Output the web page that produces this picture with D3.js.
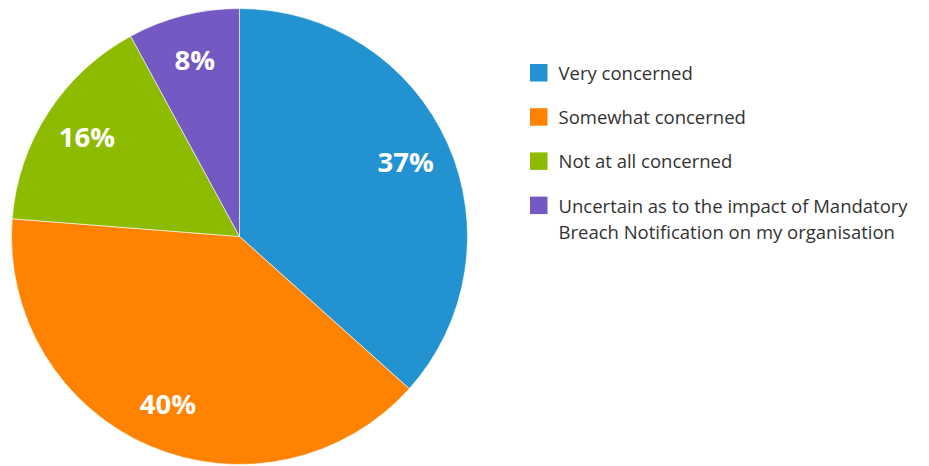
<!DOCTYPE html>
<html>
<head>
<meta charset="utf-8">
<script src="https://cdn.jsdelivr.net/npm/d3@7"></script>
<style>
  html, body { margin: 0; padding: 0; background: #fff; }
  svg { display: block; font-family: "Open Sans", sans-serif; }
</style>
</head>
<body>
<svg id="chart" width="929" height="466"></svg>
<script>
// Survey responses on Mandatory Breach Notification concern
const categories = [
  "Very concerned",
  "Somewhat concerned",
  "Not at all concerned",
  "Uncertain as to the impact of Mandatory Breach Notification on my organisation"
];
const values = [37, 40, 16, 8];
const colors = ["#2392d1", "#ff8300", "#8dbb00", "#7559c2"];
// legend lines (long label wraps onto two lines)
const legendLines = [
  ["Very concerned"],
  ["Somewhat concerned"],
  ["Not at all concerned"],
  ["Uncertain as to the impact of Mandatory", "Breach Notification on my organisation"]
];

const svg = d3.select("#chart");
const cx = 239.5, cy = 236.5, radius = 228;

const pie = d3.pie().sort(null).value(d => d)(values);
const arc = d3.arc().innerRadius(0).outerRadius(radius);
const labelArc = d3.arc().innerRadius(182).outerRadius(182);

const g = svg.append("g").attr("transform", `translate(${cx},${cy})`);

g.selectAll("path.slice")
  .data(pie)
  .join("path")
  .attr("class", "slice")
  .attr("d", arc)
  .attr("fill", (d, i) => colors[i])
  .attr("stroke", "#ffffff")
  .attr("stroke-opacity", 0.6)
  .attr("stroke-width", 1);

g.selectAll("text.pct")
  .data(pie)
  .join("text")
  .attr("class", "pct")
  .attr("transform", d => `translate(${labelArc.centroid(d)})`)
  .attr("text-anchor", "middle")
  .attr("dy", "0.36em")
  .attr("fill", "#ffffff")
  .attr("font-weight", 700)
  .attr("font-size", 27.5)
  .text(d => d.data + "%");

// legend
const legend = svg.append("g").attr("transform", "translate(530,64)");
const rowGap = 44.2;
const items = legend.selectAll("g.item")
  .data(categories)
  .join("g")
  .attr("class", "item")
  .attr("transform", (d, i) => `translate(0,${i * rowGap})`);

items.append("rect")
  .attr("width", 17.5)
  .attr("height", 17.5)
  .attr("fill", (d, i) => colors[i]);

items.each(function (d, i) {
  const t = d3.select(this).append("text")
    .attr("x", 28.5)
    .attr("y", 16)
    .attr("font-size", 18.5)
    .attr("fill", "#333333");
  legendLines[i].forEach((line, j) => {
    t.append("tspan").attr("x", 28.5).attr("dy", j === 0 ? 0 : 26.5).text(line);
  });
});
</script>
</body>
</html>
